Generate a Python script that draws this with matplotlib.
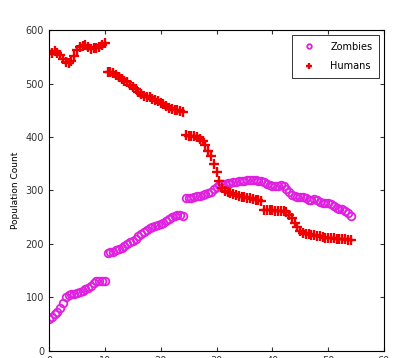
import numpy as np
import matplotlib
matplotlib.use('Agg')
import matplotlib.pyplot as plt

t = np.arange(0, 54.5, 0.5)

zombies = [60, 63, 68, 72, 80, 90, 100, 104, 106, 107, 108, 110, 112, 115, 118, 122, 127, 130, 131, 131, 130,
           183, 184, 185, 188, 191, 193, 196, 199, 203, 206, 210, 214, 219, 223, 226, 229, 231, 233, 236, 238,
           240, 243, 246, 250, 253, 254, 254, 253,
           285, 286, 286, 287, 289, 290, 292, 294, 296, 298, 303, 307, 310, 312, 313, 314, 314, 315, 316, 317,
           317, 318, 319, 319, 320, 319, 318, 318, 315, 312, 310, 309, 308, 309, 310, 309, 303, 297, 292, 289,
           288, 288, 287, 285, 283, 283, 284, 282, 279, 277, 276, 276, 274, 271, 268, 266, 265, 262, 257, 252]

humans = [555, 557, 560, 558, 553, 545, 540, 538, 542, 552, 563, 568, 570, 572, 568, 565, 566, 567, 568, 572, 575,
          522, 521, 519, 516, 512, 509, 505, 502, 498, 494, 489, 484, 480, 477, 475, 474, 472, 470, 467, 464,
          461, 458, 455, 452, 450, 450, 449, 447,
          403, 402, 402, 401, 400, 397, 393, 385, 374, 365, 350, 335, 318, 305, 299, 297, 295, 293, 291, 289,
          288, 287, 286, 285, 284, 283, 282, 281, 264, 264, 263, 263, 262, 262, 261, 261, 259, 254, 248, 240,
          232, 224, 220, 219, 218, 217, 216, 215, 214, 213, 212, 212, 211, 211, 210, 210, 209, 209, 208, 208]

fig = plt.figure(figsize=(4, 3.58), dpi=100)
ax = fig.add_axes([0.1225, 0.02, 0.8375, 0.896])

ax.plot(t, zombies, 'o', color='#e020e0', mfc='none', ms=5.5, mew=1.3, label='Zombies')
ax.plot(t, humans, '+', color='#ee0000', ms=6.5, mew=1.7, label='Humans')

ax.set_xlim(0, 60)
ax.set_ylim(0, 600)
ax.set_xticks(range(0, 61, 10))
ax.set_yticks(range(0, 601, 100))
ax.tick_params(direction='in', top=True, right=True, labelsize=7, colors='#333333', length=3)
ax.set_ylabel('Population Count', fontsize=6.5)
for s in ax.spines.values():
    s.set_linewidth(0.8)

leg = ax.legend(loc='upper right', fontsize=7, fancybox=False, edgecolor='black',
                borderaxespad=0.5, borderpad=0.7, handletextpad=1.2, labelspacing=1.0,
                markerscale=0.6)
leg.get_frame().set_linewidth(0.7)

fig.savefig('out.png', dpi=100)
